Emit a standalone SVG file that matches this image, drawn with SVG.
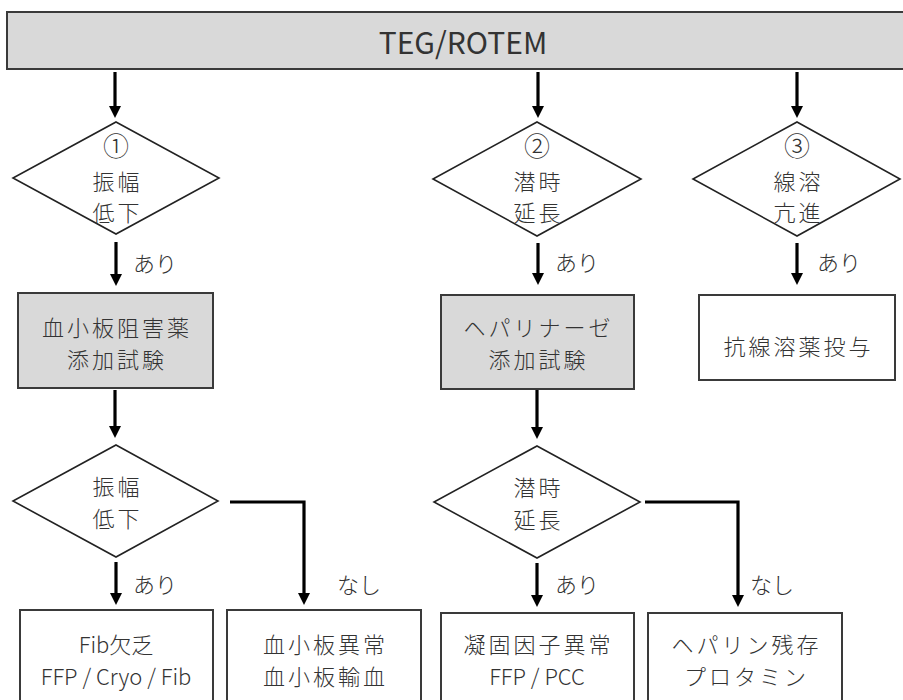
<svg xmlns="http://www.w3.org/2000/svg" width="903" height="700" viewBox="0 0 903 700">
<style>
text{font-family:"Noto Sans CJK JP","Noto Sans",sans-serif;font-weight:300;fill:#333;text-anchor:middle;dominant-baseline:central}
.t{font-size:22px}
.j{font-size:22px;letter-spacing:3px}
.lab{font-size:22px;text-anchor:start}
.num{font-size:26px}
.box{stroke:#3a3a3a;stroke-width:2}
.g{fill:#d9d9d9}
.w{fill:#fff}
.dia{fill:#fff;stroke:#222;stroke-width:1.6}
.arr{fill:none;stroke:#000;stroke-width:3.2;marker-end:url(#ah)}
</style>
<defs>
<marker id="ah" markerUnits="userSpaceOnUse" markerWidth="14" markerHeight="14" refX="0" refY="6" orient="auto">
<path d="M0,0 L12,6 L0,12 z" fill="#000"/>
</marker>
</defs>
<rect width="903" height="700" fill="#fff"/>
<g id="teg">
<rect class="box g" x="7" y="12" width="910" height="57"/>
<text x="463" y="41" style="font-size:30px;font-weight:400">TEG/ROTEM</text>
</g>
<g id="connectors">
<line class="arr" x1="115" y1="72" x2="115" y2="106"/>
<line class="arr" x1="538" y1="72" x2="538" y2="106"/>
<line class="arr" x1="797" y1="72" x2="797" y2="106"/>
<line class="arr" x1="116" y1="242" x2="116" y2="274"/>
<line class="arr" x1="538" y1="243" x2="538" y2="273"/>
<line class="arr" x1="797" y1="243" x2="797" y2="273"/>
<line class="arr" x1="115" y1="390" x2="115" y2="426"/>
<line class="arr" x1="537" y1="390" x2="537" y2="427"/>
<line class="arr" x1="116" y1="562" x2="116" y2="593"/>
<line class="arr" x1="537" y1="563" x2="537" y2="595"/>
<polyline class="arr" points="230,502 304,502 304,593"/>
<polyline class="arr" points="645,502 738,502 738,595"/>
<text class="lab" x="133" y="262">あり</text>
<text class="lab" x="555" y="261">あり</text>
<text class="lab" x="817" y="261">あり</text>
<text class="lab" x="133" y="583">あり</text>
<text class="lab" x="555" y="583">あり</text>
<text class="lab" x="337" y="583">なし</text>
<text class="lab" x="750" y="583">なし</text>
</g>
<g id="d1">
<polygon class="dia" points="116,122 219,178 116,234 13,178"/>
<text class="num" x="116" y="144">①</text>
<text class="j" x="117.5" y="180">振幅</text>
<text class="j" x="117.5" y="211">低下</text>
</g>
<g id="d2">
<polygon class="dia" points="537,122 641,179 537,236 433,179"/>
<text class="num" x="537" y="144">②</text>
<text class="j" x="538.5" y="180">潜時</text>
<text class="j" x="538.5" y="211">延長</text>
</g>
<g id="d3">
<polygon class="dia" points="797,122 900,179 797,236 693,179"/>
<text class="num" x="797" y="144">③</text>
<text class="j" x="798.5" y="180">線溶</text>
<text class="j" x="798.5" y="211">亢進</text>
</g>
<g id="b1">
<rect class="box g" x="18" y="293" width="195" height="95"/>
<text class="j" x="117" y="326">血小板阻害薬</text>
<text class="j" x="117" y="358">添加試験</text>
</g>
<g id="b2">
<rect class="box g" x="441" y="295" width="193" height="94"/>
<text class="j" x="538.5" y="326">ヘパリナーゼ</text>
<text class="j" x="538.5" y="358">添加試験</text>
</g>
<g id="b3">
<rect class="box w" x="699" y="295" width="196" height="85"/>
<text class="j" x="798.5" y="345">抗線溶薬投与</text>
</g>
<g id="d4">
<polygon class="dia" points="116,445 218,501 116,557 13,501"/>
<text class="j" x="117.5" y="485">振幅</text>
<text class="j" x="117.5" y="517">低下</text>
</g>
<g id="d5">
<polygon class="dia" points="537,446 640,502 537,558 434,502"/>
<text class="j" x="538.5" y="486">潜時</text>
<text class="j" x="538.5" y="518">延長</text>
</g>
<g id="b4">
<rect class="box w" x="20" y="610" width="193" height="100"/>
<text class="t" x="116" y="643">Fib欠乏</text>
<text class="t" x="116" y="675">FFP / Cryo / Fib</text>
</g>
<g id="b5">
<rect class="box w" x="227" y="610" width="194" height="100"/>
<text class="j" x="325.5" y="643">血小板異常</text>
<text class="j" x="325.5" y="675">血小板輸血</text>
</g>
<g id="b6">
<rect class="box w" x="441" y="613" width="193" height="100"/>
<text class="j" x="538.5" y="643">凝固因子異常</text>
<text class="t" x="537" y="675">FFP / PCC</text>
</g>
<g id="b7">
<rect class="box w" x="648" y="613" width="194" height="100"/>
<text class="j" x="746.5" y="643">ヘパリン残存</text>
<text class="j" x="746.5" y="675">プロタミン</text>
</g>
</svg>
